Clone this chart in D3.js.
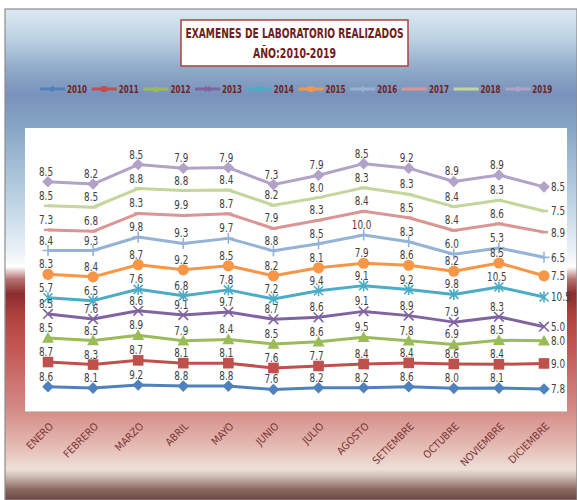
<!DOCTYPE html>
<html>
<head>
<meta charset="utf-8">
<script src="https://cdn.jsdelivr.net/npm/d3@7"></script>
<style>
  html, body { margin: 0; padding: 0; background: #ffffff; }
  svg { display: block; }
  text { font-family: "Liberation Sans Narrow", "Arial Narrow", "DejaVu Sans Condensed", sans-serif; }
</style>
</head>
<body>
<svg id="chart" width="577" height="500"></svg>
<script>
// ---------- DATA ----------
const months = ["ENERO","FEBRERO","MARZO","ABRIL","MAYO","JUNIO","JULIO","AGOSTO","SETIEMBRE","OCTUBRE","NOVIEMBRE","DICIEMBRE"];
const years = ["2010","2011","2012","2013","2014","2015","2016","2017","2018","2019"];
const v2010 = [8.6, 8.1, 9.2, 8.8, 8.8, 7.6, 8.2, 8.2, 8.6, 8.0, 8.1, 7.8];
const v2011 = [8.7, 8.3, 8.7, 8.1, 8.1, 7.6, 7.7, 8.4, 8.4, 8.6, 8.4, 9.0];
const v2012 = [8.5, 8.5, 8.9, 7.9, 8.4, 8.5, 8.6, 9.5, 7.8, 6.9, 8.5, 8.0];
const v2013 = [8.5, 7.6, 8.6, 9.1, 9.7, 8.7, 8.6, 9.1, 8.9, 7.9, 8.3, 5.0];
const v2014 = [5.7, 6.5, 7.6, 6.8, 7.8, 7.2, 9.4, 9.1, 9.2, 9.8, 10.5, 10.5];
const v2015 = [8.3, 8.4, 8.7, 9.2, 8.5, 8.2, 8.1, 7.9, 8.6, 8.2, 8.5, 7.5];
const v2016 = [8.4, 9.3, 9.8, 9.3, 9.7, 8.8, 8.5, 10.0, 8.3, 6.0, 5.3, 6.5];
const v2017 = [7.3, 6.8, 8.3, 9.9, 8.7, 7.9, 8.3, 8.4, 8.5, 8.4, 8.6, 8.9];
const v2018 = [8.5, 8.5, 8.8, 8.8, 8.4, 8.2, 8.0, 8.3, 8.3, 8.4, 8.3, 7.5];
const v2019 = [8.5, 8.2, 8.5, 7.9, 7.9, 7.3, 7.9, 8.5, 9.2, 8.9, 8.9, 8.5];
const seriesValues = [v2010, v2011, v2012, v2013, v2014, v2015, v2016, v2017, v2018, v2019];
const titleLines = ["EXAMENES DE LABORATORIO REALIZADOS", "AÑO:2010-2019"];

// ---------- STYLE ----------
const colors = ["#4F81BD","#C0504D","#9BBB59","#8064A2","#4BACC6","#F79646","#95B3D7","#D99694","#C3D69B","#B3A2C7"];
const markers = ["diamond","square","triangle","x","star","circle","plus","dash","dash","diamond"];

const svg = d3.select("#chart");
const W = 577, H = 500;

// background gradient
const defs = svg.append("defs");
const grad = defs.append("linearGradient").attr("id","bg").attr("x1",0).attr("y1",0).attr("x2",0).attr("y2",1);
[
  [0, "#dde9f3"], [0.06, "#bdd2e3"], [0.12, "#91abc9"], [0.175, "#7892bb"],
  [0.24, "#86a5c5"], [0.39, "#bcd3e4"], [0.50, "#eef4f8"], [0.525, "#ffffff"],
  [0.55, "#b97272"], [0.58, "#8c2d2d"], [0.63, "#b24440"], [0.69, "#c45654"],
  [0.815, "#d48a86"], [0.888, "#e4b9b1"], [0.937, "#ede0d8"], [0.953, "#cdbab2"],
  [0.978, "#8a6a63"], [1, "#6a4841"]
].forEach(([o,c]) => grad.append("stop").attr("offset", o).attr("stop-color", c));

svg.append("rect").attr("x", 5).attr("y", 9).attr("width", W - 5).attr("height", H - 9)
  .attr("fill", "url(#bg)").attr("stroke", "#8c8c8c").attr("stroke-width", 1.2);

// plot area
const plot = {left: 25, top: 128, right: 567, bottom: 411};
svg.append("rect").attr("x", plot.left).attr("y", plot.top)
  .attr("width", plot.right - plot.left).attr("height", plot.bottom - plot.top)
  .attr("fill", "#ffffff");
svg.append("line").attr("x1", plot.left).attr("x2", plot.right).attr("y1", plot.bottom + 0.5).attr("y2", plot.bottom + 0.5)
  .attr("stroke", "#c8c8c8").attr("stroke-width", 1);

// title
const tb = {x: 181, y: 20, w: 227, h: 46};
svg.append("rect").attr("x", tb.x).attr("y", tb.y).attr("width", tb.w).attr("height", tb.h)
  .attr("fill", "#ffffff").attr("stroke", "#b0403c").attr("stroke-width", 1.5);
svg.append("text").attr("x", tb.x + tb.w / 2).attr("y", 38).attr("text-anchor", "middle")
  .attr("font-size", 13.5).attr("font-weight", "bold").attr("fill", "#6e2020")
  .attr("textLength", 218).attr("lengthAdjust", "spacingAndGlyphs").text(titleLines[0]);
svg.append("text").attr("x", tb.x + tb.w / 2).attr("y", 58).attr("text-anchor", "middle")
  .attr("font-size", 13.5).attr("font-weight", "bold").attr("fill", "#6e2020")
  .attr("textLength", 83).attr("lengthAdjust", "spacingAndGlyphs").text(titleLines[1]);

// scales
const x = d3.scalePoint().domain(months).range([48, 544]);
const y = d3.scaleLinear().domain([0, 100]).range([plot.bottom, plot.top]);

// stacked data
const table = months.map((m, i) => {
  const row = {month: m};
  years.forEach((yr, k) => row[yr] = seriesValues[k][i]);
  return row;
});
const stacked = d3.stack().keys(years)(table);

// marker drawing
function drawMarker(g, type, color, s) {
  const k = s || 1;
  if (type === "diamond") {
    g.append("path").attr("d", `M0,${-5.8*k}L${5.8*k},0L0,${5.8*k}L${-5.8*k},0Z`).attr("fill", color);
  } else if (type === "square") {
    g.append("rect").attr("x", -5.3*k).attr("y", -5.3*k).attr("width", 10.6*k).attr("height", 10.6*k).attr("fill", color);
  } else if (type === "triangle") {
    g.append("path").attr("d", `M0,${-6*k}L${6*k},${4.8*k}L${-6*k},${4.8*k}Z`).attr("fill", color);
  } else if (type === "circle") {
    g.append("circle").attr("r", 5.6*k).attr("fill", color);
  } else if (type === "x") {
    g.append("path").attr("d", `M${-4.8*k},${-4.8*k}L${4.8*k},${4.8*k}M${-4.8*k},${4.8*k}L${4.8*k},${-4.8*k}`)
      .attr("stroke", color).attr("stroke-width", 1.6).attr("fill", "none");
  } else if (type === "star") {
    g.append("path").attr("d", `M${-4.5*k},${-4.5*k}L${4.5*k},${4.5*k}M${-4.5*k},${4.5*k}L${4.5*k},${-4.5*k}M0,${-5.5*k}L0,${5.5*k}`)
      .attr("stroke", color).attr("stroke-width", 1.6).attr("fill", "none");
  } else if (type === "plus") {
    g.append("path").attr("d", `M${-5.5*k},0L${5.5*k},0M0,${-5.5*k}L0,${5.5*k}`)
      .attr("stroke", color).attr("stroke-width", 1.6).attr("fill", "none");
  } else if (type === "dash") {
    g.append("path").attr("d", `M${-4*k},0L${4*k},0`).attr("stroke", color).attr("stroke-width", 2.5);
  }
}

// legend
const legendStart = 40, legendStep = 51.7, legendY = 89;
years.forEach((yr, k) => {
  const lx = legendStart + k * legendStep;
  const g = svg.append("g");
  g.append("line").attr("x1", lx).attr("x2", lx + 25).attr("y1", legendY).attr("y2", legendY)
    .attr("stroke", colors[k]).attr("stroke-width", 3);
  const mg = g.append("g").attr("transform", `translate(${lx + 12.5},${legendY})`);
  drawMarker(mg, markers[k], colors[k], 0.55);
  g.append("text").attr("x", lx + 27).attr("y", legendY + 4).attr("font-size", 11).attr("font-weight", "bold")
    .attr("fill", "#6e2525").attr("textLength", 20).attr("lengthAdjust", "spacingAndGlyphs").text(yr);
});

// lines
const line = d3.line().x(d => x(d.data.month)).y(d => y(d[1]));
stacked.forEach((s, k) => {
  svg.append("path").datum(s).attr("d", line).attr("fill", "none")
    .attr("stroke", colors[k]).attr("stroke-width", 3).attr("stroke-linejoin", "round");
});
// markers
stacked.forEach((s, k) => {
  s.forEach(d => {
    const g = svg.append("g").attr("transform", `translate(${x(d.data.month)},${y(d[1])})`);
    drawMarker(g, markers[k], colors[k], 1);
  });
});
// data labels
const fmt = d3.format(".1f");
function labelWidth(str) {
  let w = 0;
  for (const ch of str) w += (ch === ".") ? 2.8 : 5.6;
  return w;
}
stacked.forEach((s, k) => {
  s.forEach((d, i) => {
    const px = x(d.data.month), py = y(d[1]);
    const last = i === months.length - 1;
    const str = fmt(d.data[years[k]]);
    svg.append("text")
      .attr("x", last ? px + 7 : px - 2)
      .attr("y", last ? py + 4.5 : py - 6)
      .attr("text-anchor", last ? "start" : "middle")
      .attr("font-size", 12).attr("fill", "#404040")
      .attr("textLength", labelWidth(str)).attr("lengthAdjust", "spacingAndGlyphs")
      .text(str);
  });
});

// x axis labels
months.forEach(m => {
  const px = x(m);
  svg.append("text").attr("transform", `translate(${px + 6},${427}) rotate(-45)`)
    .attr("text-anchor", "end").attr("font-size", 10.5).attr("fill", "#7a3535").text(m);
});
</script>
</body>
</html>
